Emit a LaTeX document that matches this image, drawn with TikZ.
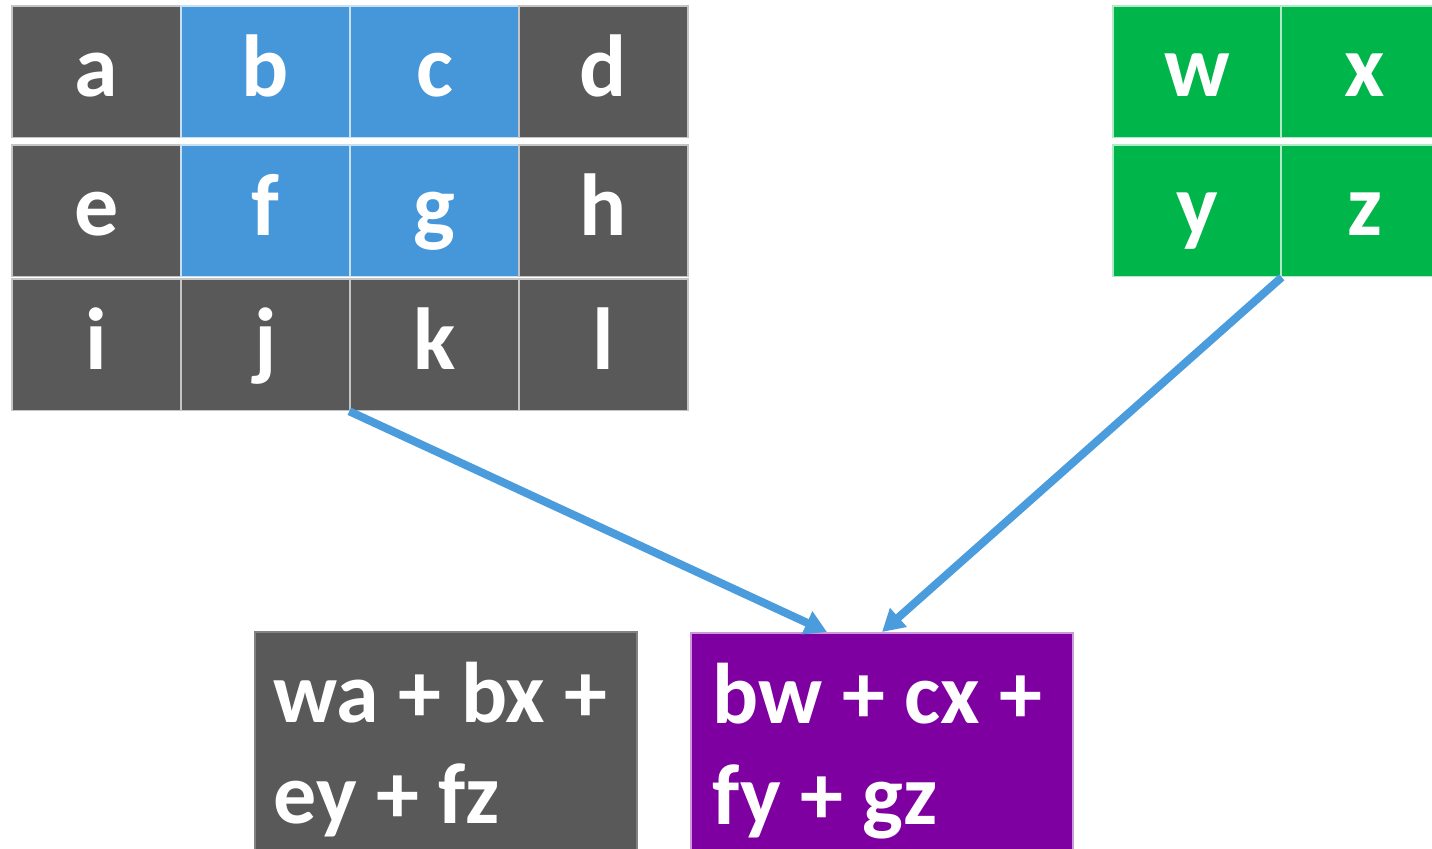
\documentclass[tikz,border=0pt]{standalone}
\usepackage{fontspec}
\setmainfont{Carlito}
\usetikzlibrary{arrows.meta,calc}
\definecolor{cellgray}{HTML}{595959}
\definecolor{cellblue}{HTML}{4597DA}
\definecolor{cellgreen}{HTML}{00B54A}
\definecolor{boxpurple}{HTML}{7F00A0}
\definecolor{arrowblue}{HTML}{4A9CDC}
\definecolor{cellline}{HTML}{C4C4C4}
\begin{document}
\begin{tikzpicture}[x=0.5pt,y=-0.5pt,
  cell/.style={draw=cellline, line width=0.75pt, text=white,
    font=\bfseries\fontsize{44}{50}\selectfont,
    minimum width=84.5pt, inner xsep=0pt, inner ysep=0pt,
    text height=45pt, text depth=20.75pt},
  gcell/.style={cell, fill=cellgray},
  bcell/.style={cell, fill=cellblue, draw=white!70!cellblue},
  ncell/.style={cell, fill=cellgreen, draw=white!70!cellgreen, minimum width=84pt},
  eqbox/.style={anchor=north west, text=white,
    font=\bfseries\fontsize{43}{50.5}\selectfont,
    inner ysep=0pt, text height=45.5pt, text depth=65pt},
  conn/.style={draw=arrowblue, line width=4pt,
    -{Triangle[length=11pt,width=12pt]}}]
\clip (0,0) rectangle (1432,848);
\fill[white] (0,0) rectangle (1432,848);
% left grid
\node[gcell] (a) at (96.5,71.75) {a};
\node[bcell] (b) at (265.5,71.75) {b};
\node[bcell] (c) at (434.5,71.75) {c};
\node[gcell] (d) at (603.5,71.75) {d};
\node[gcell] (e) at (96.5,210.75) {e};
\node[bcell] (f) at (265.5,210.75) {f};
\node[bcell] (g) at (434.5,210.75) {g};
\node[gcell] (h) at (603.5,210.75) {h};
\node[gcell] (i) at (96.5,344.75) {i};
\node[gcell] (j) at (265.5,344.75) {j};
\node[gcell] (k) at (434.5,344.75) {k};
\node[gcell] (l) at (603.5,344.75) {l};
% right grid
\node[ncell] (w) at (1197,71.75) {w};
\node[ncell] (x) at (1365,71.75) {x};
\node[ncell] (y) at (1197,210.75) {y};
\node[ncell] (z) at (1365,210.75) {z};
% result boxes
\node[eqbox, fill=cellgray, draw=white!25!cellgray, line width=0.75pt, inner xsep=9.5pt] (G) at (254,631)
  {\parbox[t]{172pt}{wa + bx +\\ey + fz}};
\node[eqbox, fill=boxpurple, draw=white!60!boxpurple, line width=0.75pt, inner xsep=11pt] (P) at (690,632)
  {\parbox[t]{169pt}{bw + cx +\\fy + gz}};
% connectors
\draw[conn] (k.south west) -- ($(P.north west)+(137,0)$);
\draw[conn] (y.south east) -- ($(P.north west)+(192,0)$);
\end{tikzpicture}
\end{document}
